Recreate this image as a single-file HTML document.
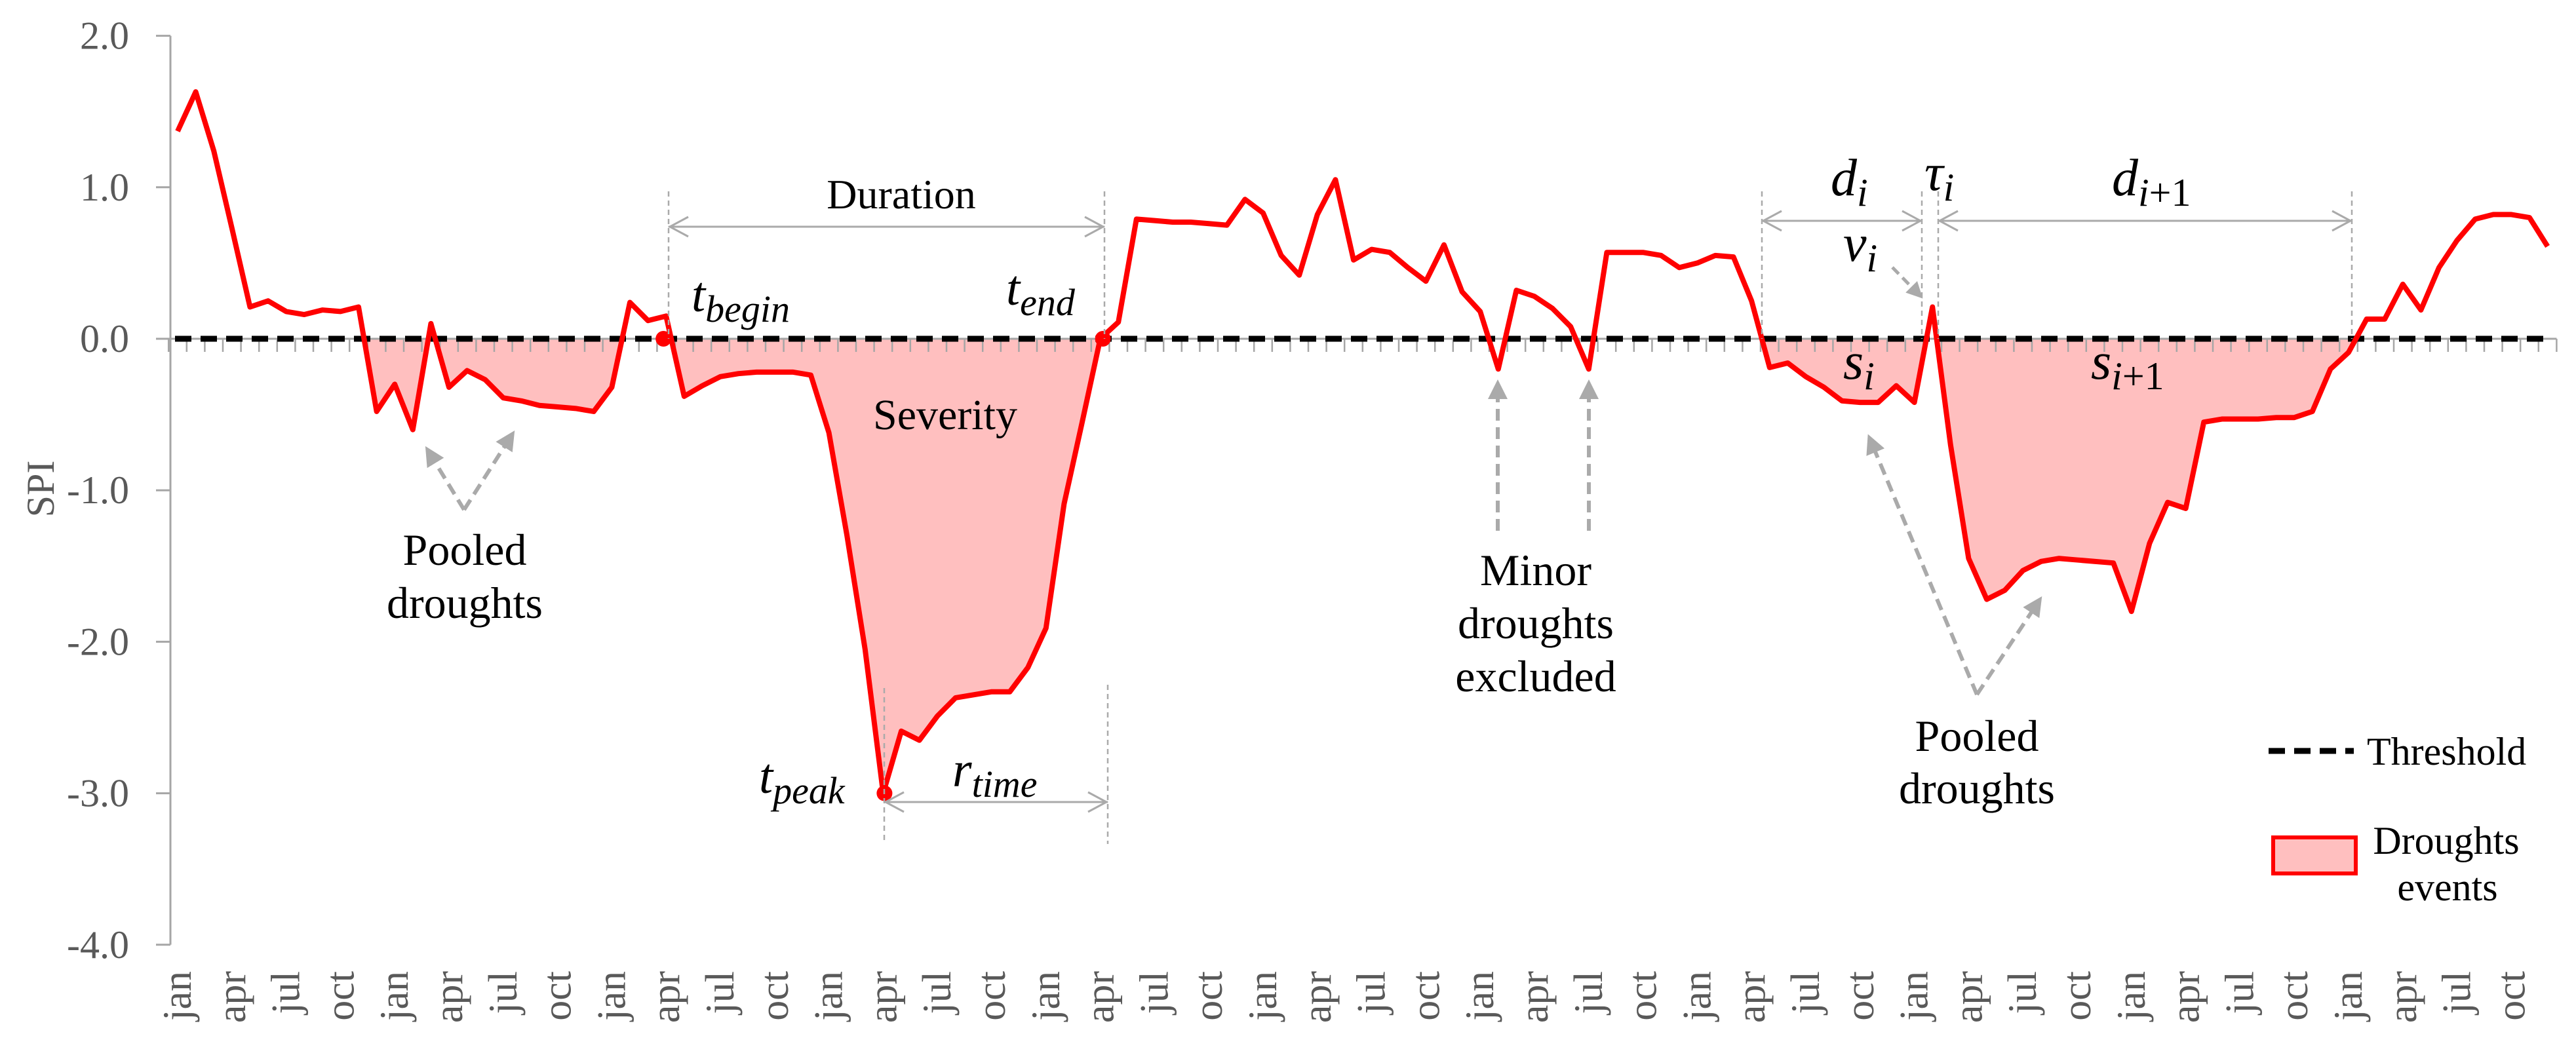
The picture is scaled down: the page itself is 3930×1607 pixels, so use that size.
<!DOCTYPE html>
<html><head><meta charset="utf-8">
<style>
html,body{margin:0;padding:0;background:#fff;}
svg{display:block;font-family:"Liberation Serif","DejaVu Serif",serif;}
svg text{font-family:"Liberation Serif","DejaVu Serif",serif;}
.m{font-style:italic;}
</style></head>
<body>
<svg id="chart" width="3930" height="1607" viewBox="0 0 3930 1607" xmlns="http://www.w3.org/2000/svg" font-family="Liberation Serif, DejaVu Serif, serif" style="font-family:'Liberation Serif','DejaVu Serif',serif">
<defs>
<marker id="ah" viewBox="0 0 10 10" refX="8" refY="5" markerWidth="5" markerHeight="5" orient="auto"><path d="M0,0 L10,5 L0,10 z" fill="#aaaaaa"/></marker>
</defs>
<g id="fills"></g>
<g id="axes"></g>
<g id="series"></g>
<g id="annot">
  <line x1="1020" y1="292" x2="1020" y2="517" stroke="#aaa" stroke-width="2.5" stroke-dasharray="8,6"/>
  <line x1="1685" y1="292" x2="1685" y2="517" stroke="#aaa" stroke-width="2.5" stroke-dasharray="8,6"/>
  <line x1="1020" y1="346" x2="1685" y2="346" stroke="#aaa" stroke-width="3"/>
  <polyline points="1050,331 1022,346 1050,361" fill="none" stroke="#aaa" stroke-width="3"/>
  <polyline points="1655,331 1683,346 1655,361" fill="none" stroke="#aaa" stroke-width="3"/>
  <text x="1375" y="318" font-size="64" text-anchor="middle">Duration</text>
  <text class="m" x="1055" y="475" font-size="76">t<tspan font-size="58" dy="16">begin</tspan></text>
  <text class="m" x="1535" y="465" font-size="76">t<tspan font-size="58" dy="16">end</tspan></text>
  <text x="1442" y="655" font-size="66" text-anchor="middle">Severity</text>
  <line x1="1349" y1="1050" x2="1349" y2="1288" stroke="#aaa" stroke-width="2.5" stroke-dasharray="8,6"/>
  <line x1="1690" y1="1045" x2="1690" y2="1288" stroke="#aaa" stroke-width="2.5" stroke-dasharray="8,6"/>
  <line x1="1349" y1="1224" x2="1690" y2="1224" stroke="#aaa" stroke-width="3"/>
  <polyline points="1379,1209 1351,1224 1379,1239" fill="none" stroke="#aaa" stroke-width="3"/>
  <polyline points="1660,1209 1688,1224 1660,1239" fill="none" stroke="#aaa" stroke-width="3"/>
  <text class="m" x="1158" y="1210" font-size="76">t<tspan font-size="58" dy="16">peak</tspan></text>
  <text class="m" x="1453" y="1200" font-size="76">r<tspan font-size="58" dy="16">time</tspan></text>
  <polyline points="708,778 652,686" fill="none" stroke="#aaa" stroke-width="6" stroke-dasharray="18,10" marker-end="url(#ah)"/>
  <polyline points="708,778 782,662" fill="none" stroke="#aaa" stroke-width="6" stroke-dasharray="18,10" marker-end="url(#ah)"/>
  <text x="709" y="862" font-size="68" text-anchor="middle">Pooled</text>
  <text x="709" y="943" font-size="68" text-anchor="middle">droughts</text>
  <line x1="2285" y1="810" x2="2285" y2="585" stroke="#aaa" stroke-width="6" stroke-dasharray="18,10" marker-end="url(#ah)"/>
  <line x1="2424" y1="810" x2="2424" y2="585" stroke="#aaa" stroke-width="6" stroke-dasharray="18,10" marker-end="url(#ah)"/>
  <text x="2343" y="893" font-size="68" text-anchor="middle">Minor</text>
  <text x="2343" y="974" font-size="68" text-anchor="middle">droughts</text>
  <text x="2343" y="1055" font-size="68" text-anchor="middle">excluded</text>
  <line x1="2688" y1="292" x2="2688" y2="517" stroke="#aaa" stroke-width="2.5" stroke-dasharray="8,6"/>
  <line x1="2932" y1="292" x2="2932" y2="517" stroke="#aaa" stroke-width="2.5" stroke-dasharray="8,6"/>
  <line x1="2957" y1="292" x2="2957" y2="517" stroke="#aaa" stroke-width="2.5" stroke-dasharray="8,6"/>
  <line x1="3588" y1="292" x2="3588" y2="517" stroke="#aaa" stroke-width="2.5" stroke-dasharray="8,6"/>
  <line x1="2688" y1="337" x2="2932" y2="337" stroke="#aaa" stroke-width="3"/>
  <polyline points="2718,322 2690,337 2718,352" fill="none" stroke="#aaa" stroke-width="3"/>
  <polyline points="2902,322 2930,337 2902,352" fill="none" stroke="#aaa" stroke-width="3"/>
  <line x1="2957" y1="337" x2="3588" y2="337" stroke="#aaa" stroke-width="3"/>
  <polyline points="2987,322 2959,337 2987,352" fill="none" stroke="#aaa" stroke-width="3"/>
  <polyline points="3558,322 3586,337 3558,352" fill="none" stroke="#aaa" stroke-width="3"/>
  <text class="m" x="2793" y="298" font-size="80">d<tspan font-size="60" dy="16">i</tspan></text>
  <text class="m" x="2936" y="290" font-size="80">τ<tspan font-size="60" dy="16">i</tspan></text>
  <text class="m" x="3222" y="298" font-size="80">d<tspan font-size="60" dy="16">i<tspan font-style="normal">+1</tspan></tspan></text>
  <text class="m" x="2812" y="398" font-size="80">v<tspan font-size="60" dy="16">i</tspan></text>
  <line x1="2887" y1="408" x2="2930" y2="452" stroke="#aaa" stroke-width="5" stroke-dasharray="14,8" marker-end="url(#ah)"/>
  <text class="m" x="2812" y="578" font-size="80">s<tspan font-size="60" dy="16">i</tspan></text>
  <text class="m" x="3190" y="578" font-size="80">s<tspan font-size="60" dy="16">i<tspan font-style="normal">+1</tspan></tspan></text>
  <line x1="3016" y1="1060" x2="2852" y2="668" stroke="#aaa" stroke-width="6" stroke-dasharray="18,10" marker-end="url(#ah)"/>
  <line x1="3016" y1="1060" x2="3112" y2="915" stroke="#aaa" stroke-width="6" stroke-dasharray="18,10" marker-end="url(#ah)"/>
  <text x="3016" y="1146" font-size="68" text-anchor="middle">Pooled</text>
  <text x="3016" y="1226" font-size="68" text-anchor="middle">droughts</text>
</g>
<g id="legend">
  <line x1="3461" y1="1146" x2="3591" y2="1146" stroke="#000" stroke-width="9" stroke-dasharray="25,14"/>
  <text x="3611" y="1167" font-size="60">Threshold</text>
  <rect x="3468" y="1278" width="126" height="55" fill="#ffbfbf" stroke="#ff0000" stroke-width="6"/>
  <text x="3732" y="1303" font-size="60" text-anchor="middle">Droughts</text>
  <text x="3734" y="1374" font-size="60" text-anchor="middle">events</text>
</g>
</svg>
<script>
const values = [1.37,1.63,1.24,0.73,0.21,0.25,0.18,0.16,0.19,0.18,0.21,-0.48,
-0.30,-0.60,0.10,-0.32,-0.21,-0.27,-0.39,-0.41,-0.44,-0.45,-0.46,-0.48,
-0.32,0.24,0.12,0.15,-0.38,-0.31,-0.25,-0.23,-0.22,-0.22,-0.22,-0.24,
-0.62,-1.30,-2.05,-3.00,-2.59,-2.65,-2.49,-2.37,-2.35,-2.33,-2.33,-2.17,
-1.91,-1.09,-0.55,0.00,0.11,0.79,0.78,0.77,0.77,0.76,0.75,0.92,
0.83,0.55,0.42,0.82,1.05,0.52,0.59,0.57,0.47,0.38,0.62,0.31,
0.18,-0.20,0.32,0.28,0.20,0.08,-0.20,0.57,0.57,0.57,0.55,0.47,
0.50,0.55,0.54,0.25,-0.19,-0.16,-0.25,-0.32,-0.41,-0.42,-0.42,-0.31,
-0.42,0.21,-0.70,-1.45,-1.72,-1.66,-1.53,-1.47,-1.45,-1.46,-1.47,-1.48,
-1.80,-1.35,-1.08,-1.12,-0.55,-0.53,-0.53,-0.53,-0.52,-0.52,-0.48,-0.20,
-0.09,0.13,0.13,0.36,0.19,0.47,0.65,0.79,0.82,0.82,0.80,0.61];
const monthNames = ['jan','apr','jul','oct'];
const yTicks = [2,1,0,-1,-2,-3,-4];
const yTickLabels = ['2.0','1.0','0.0','-1.0','-2.0','-3.0','-4.0'];
const droughtEvents = [[10,25],[27,51],[87,121]];
const peakIndex = 39;
const beginIndex = 27;
const endIndex = 51;

const NS='http://www.w3.org/2000/svg';
const X0=271, DX=27.6, Y0=517, DY=231.2;
function xs(i){return X0+DX*i;}
function ys(v){return Y0-DY*v;}
function mk(tag,attrs,parent){const e=document.createElementNS(NS,tag);for(const k in attrs)e.setAttribute(k,attrs[k]);parent.appendChild(e);return e;}

const axes=document.getElementById('axes');
const series=document.getElementById('series');
const fills=document.getElementById('fills');

let ya=mk('line',{x1:260,y1:ys(2),x2:260,y2:ys(-4),stroke:'#a6a6a6','stroke-width':3},axes);


yTicks.forEach((t,k)=>{
  const tk=mk('line',{x1:238,y1:ys(t),x2:260,y2:ys(t),stroke:'#a6a6a6','stroke-width':3},axes);
  
  
  const tl=mk('text',{x:197,y:ys(t)+20,'font-size':60,'text-anchor':'end',fill:'#595959'},axes);
  
  
  tl.textContent=yTickLabels[k];
});
const yt=mk('text',{x:0,y:0,'font-size':60,'text-anchor':'middle',fill:'#595959',transform:'translate(82,746) rotate(-90)'},axes);


yt.textContent='SPI';

const n=values.length;
const xa=mk('line',{x1:xs(0)-DX/2,y1:ys(0),x2:xs(n-1)+DX/2,y2:ys(0),stroke:'#a6a6a6','stroke-width':3},axes);


for(let i=0;i<=n;i++){
  const tk=mk('line',{x1:xs(i)-DX/2,y1:ys(0),x2:xs(i)-DX/2,y2:ys(0)+20,stroke:'#a6a6a6','stroke-width':2.5},axes);
  
  
}
for(let i=0;i<n;i+=3){
  const tl=mk('text',{x:0,y:0,'font-size':62,'text-anchor':'end',fill:'#595959',transform:'translate('+(xs(i)+20)+',1482) rotate(-90)'},axes);
  
  
  tl.textContent=monthNames[(i%12)/3];
}

droughtEvents.forEach(([a,b])=>{
  let pts=[];
  let sx=xs(a);
  if(values[a]>0&&values[a+1]<0){sx=xs(a)+DX*values[a]/(values[a]-values[a+1]);a=a+1;}
  pts.push([sx,ys(0)]);
  for(let i=a;i<=b;i++){
    if(i>a&&((values[i-1]<0&&values[i]>0)||(values[i-1]>0&&values[i]<0))){
      const cx=xs(i-1)+DX*values[i-1]/(values[i-1]-values[i]);
      pts.push([cx,ys(0)]);
    }
    pts.push([xs(i),ys(Math.min(values[i],0))]);
  }
  pts.push([pts[pts.length-1][0],ys(0)]);
  const p=mk('polygon',{points:pts.map(q=>q.join(',')).join(' '),fill:'#ffbfbf'},fills);
  
  
});

const th=mk('line',{x1:xs(0)-4,y1:ys(0),x2:xs(n-1)-6,y2:ys(0),stroke:'#000','stroke-width':9,'stroke-dasharray':'25,14'},series);



const ln=mk('polyline',{points:values.map((v,i)=>xs(i)+','+ys(v)).join(' '),fill:'none',stroke:'#ff0000','stroke-width':8,'stroke-linejoin':'round'},series);



[[xs(beginIndex)-4,ys(0)],[xs(endIndex)+4,ys(0)],[xs(peakIndex)+2,ys(values[peakIndex])]].forEach(([cx,cy])=>{
  const c=mk('circle',{cx:cx,cy:cy,r:12,fill:'#ff0000'},series);
  
  
});
</script>
</body></html>
